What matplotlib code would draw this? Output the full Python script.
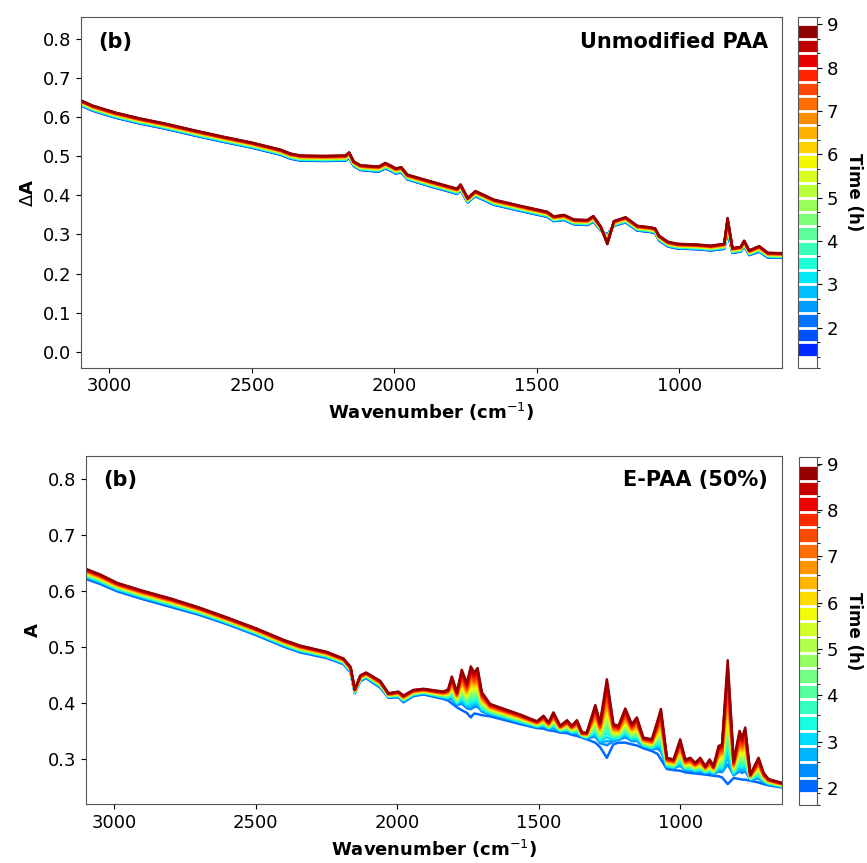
import numpy as np
import matplotlib
matplotlib.use('Agg')
import matplotlib.pyplot as plt
from matplotlib.colors import ListedColormap, BoundaryNorm, Normalize
from matplotlib.cm import ScalarMappable

# ---- top panel : unmodified PAA (delta A) ----
wn_top = [3100, 3060, 2980, 2900, 2800, 2700, 2600, 2500, 2400, 2365, 2330, 2250,
          2172, 2159, 2143, 2119, 2080, 2055, 2032, 2010, 1996, 1976, 1955, 1874,
          1780, 1768, 1743, 1716, 1651, 1557, 1464, 1441, 1405, 1370, 1323, 1302,
          1276, 1253, 1230, 1189, 1148, 1100, 1085, 1072, 1040, 1007, 937, 890,
          843, 831, 814, 785, 773, 755, 720, 690, 640]
last_top = [0.643, 0.630, 0.612, 0.598, 0.583, 0.566, 0.550, 0.535, 0.517, 0.507, 0.502, 0.501,
            0.502, 0.510, 0.487, 0.477, 0.475, 0.474, 0.483, 0.475, 0.469, 0.472, 0.453, 0.436,
            0.417, 0.428, 0.393, 0.411, 0.389, 0.373, 0.358, 0.346, 0.350, 0.338, 0.337, 0.347,
            0.320, 0.275, 0.334, 0.344, 0.322, 0.318, 0.315, 0.297, 0.281, 0.276, 0.274, 0.271,
            0.276, 0.342, 0.265, 0.268, 0.284, 0.259, 0.270, 0.253, 0.252]
first_top = [0.630, 0.617, 0.599, 0.585, 0.570, 0.553, 0.537, 0.522, 0.504, 0.494, 0.489, 0.488,
             0.489, 0.496, 0.475, 0.465, 0.462, 0.461, 0.469, 0.462, 0.456, 0.459, 0.441, 0.423,
             0.404, 0.413, 0.382, 0.398, 0.376, 0.360, 0.345, 0.334, 0.337, 0.326, 0.324, 0.333,
             0.310, 0.300, 0.322, 0.331, 0.310, 0.306, 0.303, 0.285, 0.269, 0.264, 0.262, 0.259,
             0.263, 0.305, 0.253, 0.256, 0.270, 0.247, 0.256, 0.241, 0.240]
times_top = [1.50, 1.83, 2.17, 2.50, 2.83, 3.17, 3.50, 3.83, 4.17, 4.50, 4.83, 5.17,
             5.50, 5.83, 6.17, 6.50, 6.83, 7.17, 7.50, 7.83, 8.17, 8.50, 8.83]
prog_top = [0, 0.05, 0.09, 0.14, 0.18, 0.23, 0.27, 0.32, 0.36, 0.41, 0.45, 0.50,
            0.55, 0.59, 0.64, 0.68, 0.73, 0.77, 0.82, 0.86, 0.91, 0.95, 1.0]

# ---- bottom panel : E-PAA (50%) (A) ----
wn_bot = [3100, 3050, 2990, 2900, 2800, 2700, 2600, 2500, 2400, 2343, 2250, 2190,
          2165, 2150, 2130, 2110, 2060, 2031, 1996, 1978, 1943, 1907, 1837, 1820,
          1807, 1789, 1772, 1754, 1740, 1728, 1716, 1701, 1672, 1565, 1506, 1483,
          1465, 1448, 1424, 1400, 1383, 1365, 1347, 1330, 1300, 1283, 1259, 1236,
          1218, 1194, 1171, 1153, 1130, 1100, 1080, 1068, 1047, 1023, 1000, 982,
          964, 947, 929, 911, 896, 882, 864, 852, 832, 811, 790, 781,
          770, 752, 723, 705, 688, 640]
last_bot = [0.640, 0.630, 0.615, 0.601, 0.587, 0.571, 0.553, 0.534, 0.513, 0.503, 0.492, 0.480,
            0.465, 0.425, 0.450, 0.455, 0.440, 0.418, 0.421, 0.414, 0.424, 0.426, 0.421, 0.425,
            0.448, 0.420, 0.460, 0.436, 0.466, 0.455, 0.463, 0.420, 0.399, 0.380, 0.368, 0.378,
            0.366, 0.384, 0.360, 0.370, 0.360, 0.370, 0.348, 0.348, 0.397, 0.366, 0.443, 0.363,
            0.360, 0.391, 0.363, 0.375, 0.339, 0.336, 0.369, 0.390, 0.303, 0.300, 0.336, 0.300,
            0.303, 0.294, 0.303, 0.288, 0.300, 0.288, 0.324, 0.327, 0.477, 0.297, 0.351, 0.339,
            0.357, 0.273, 0.303, 0.276, 0.265, 0.258]
first_bot = [0.622, 0.613, 0.600, 0.586, 0.572, 0.558, 0.541, 0.522, 0.501, 0.491, 0.481, 0.470,
             0.455, 0.418, 0.440, 0.445, 0.428, 0.410, 0.411, 0.402, 0.413, 0.416, 0.408, 0.405,
             0.400, 0.393, 0.388, 0.383, 0.375, 0.382, 0.381, 0.379, 0.377, 0.363, 0.356, 0.355,
             0.352, 0.351, 0.348, 0.347, 0.344, 0.342, 0.339, 0.336, 0.330, 0.322, 0.303, 0.327,
             0.330, 0.330, 0.327, 0.325, 0.320, 0.315, 0.310, 0.300, 0.283, 0.281, 0.280, 0.277,
             0.276, 0.275, 0.274, 0.273, 0.272, 0.271, 0.270, 0.268, 0.256, 0.267, 0.265, 0.264,
             0.264, 0.262, 0.259, 0.256, 0.254, 0.250]
times_bot = [2.05, 2.39, 2.73, 3.06, 3.40, 3.74, 4.08, 4.42, 4.75, 5.09, 5.43,
             5.77, 6.11, 6.44, 6.78, 7.12, 7.46, 7.80, 8.13, 8.47, 8.81]
prog_bot = [0, 0.16, 0.21, 0.26, 0.31, 0.35, 0.40, 0.44, 0.48, 0.52, 0.56,
            0.60, 0.64, 0.68, 0.72, 0.76, 0.80, 0.85, 0.90, 0.95, 1.0]

cmap = plt.get_cmap('jet')
tnorm = Normalize(0, 9)


def draw_panel(ax, cax, wn, first, last, times, prog, ylab, title, ylim, yticks, cb_lo, cb_hi):
    wn = np.array(wn)
    first = np.array(first)
    last = np.array(last)
    for t, p in zip(times, prog):
        ax.plot(wn, first + p * (last - first), color=cmap(tnorm(t)), lw=1.8)
    ax.set_xlim(3100, 640)
    ax.set_ylim(*ylim)
    ax.set_yticks(yticks)
    ax.set_xticks([3000, 2500, 2000, 1500, 1000])
    ax.set_xlabel('Wavenumber (cm$^{-1}$)', fontsize=13, fontweight='bold')
    ax.set_ylabel(ylab, fontsize=13, fontweight='bold')
    ax.tick_params(labelsize=13)
    for s in ax.spines.values():
        s.set_color('#555555')
    ax.text(0.025, 0.93, '(b)', transform=ax.transAxes, fontsize=15, fontweight='bold', va='center')
    ax.text(0.98, 0.93, title, transform=ax.transAxes, fontsize=15, fontweight='bold',
            va='center', ha='right')

    # discrete colorbar, white cells at both ends
    times = np.array(times)
    mids = (times[1:] + times[:-1]) / 2
    step = times[1] - times[0]
    bounds = np.concatenate([[cb_lo, times[0] - step / 2], mids, [times[-1] + step / 2, cb_hi]])
    colors = ['white'] + [cmap(tnorm(t)) for t in times] + ['white']
    sm = ScalarMappable(norm=BoundaryNorm(bounds, len(colors)), cmap=ListedColormap(colors))
    cb = plt.colorbar(sm, cax=cax, drawedges=True, spacing='proportional',
                      ticks=[2, 3, 4, 5, 6, 7, 8, 9])
    cb.dividers.set_color('white')
    cb.dividers.set_linewidth(2)
    cb.outline.set_edgecolor('#555555')
    cb.ax.tick_params(labelsize=13)
    cb.set_label('Time (h)', fontsize=12, fontweight='bold', rotation=270, labelpad=18)


fig = plt.figure(figsize=(8.67, 8.63), dpi=100)
ax1 = fig.add_axes([0.0934, 0.574, 0.8086, 0.406])
cax1 = fig.add_axes([0.9204, 0.574, 0.0216, 0.406])
ax2 = fig.add_axes([0.0992, 0.068, 0.8028, 0.404])
cax2 = fig.add_axes([0.9216, 0.0672, 0.0204, 0.4033])

draw_panel(ax1, cax1, wn_top, first_top, last_top, times_top, prog_top, r'$\Delta$A',
           'Unmodified PAA', (-0.041, 0.856), np.arange(0, 0.81, 0.1), 1.08, 9.16)
draw_panel(ax2, cax2, wn_bot, first_bot, last_bot, times_bot, prog_bot, 'A',
           'E-PAA (50%)', (0.22, 0.842), [0.3, 0.4, 0.5, 0.6, 0.7, 0.8], 1.63, 9.15)

fig.savefig('out.png', dpi=100)
